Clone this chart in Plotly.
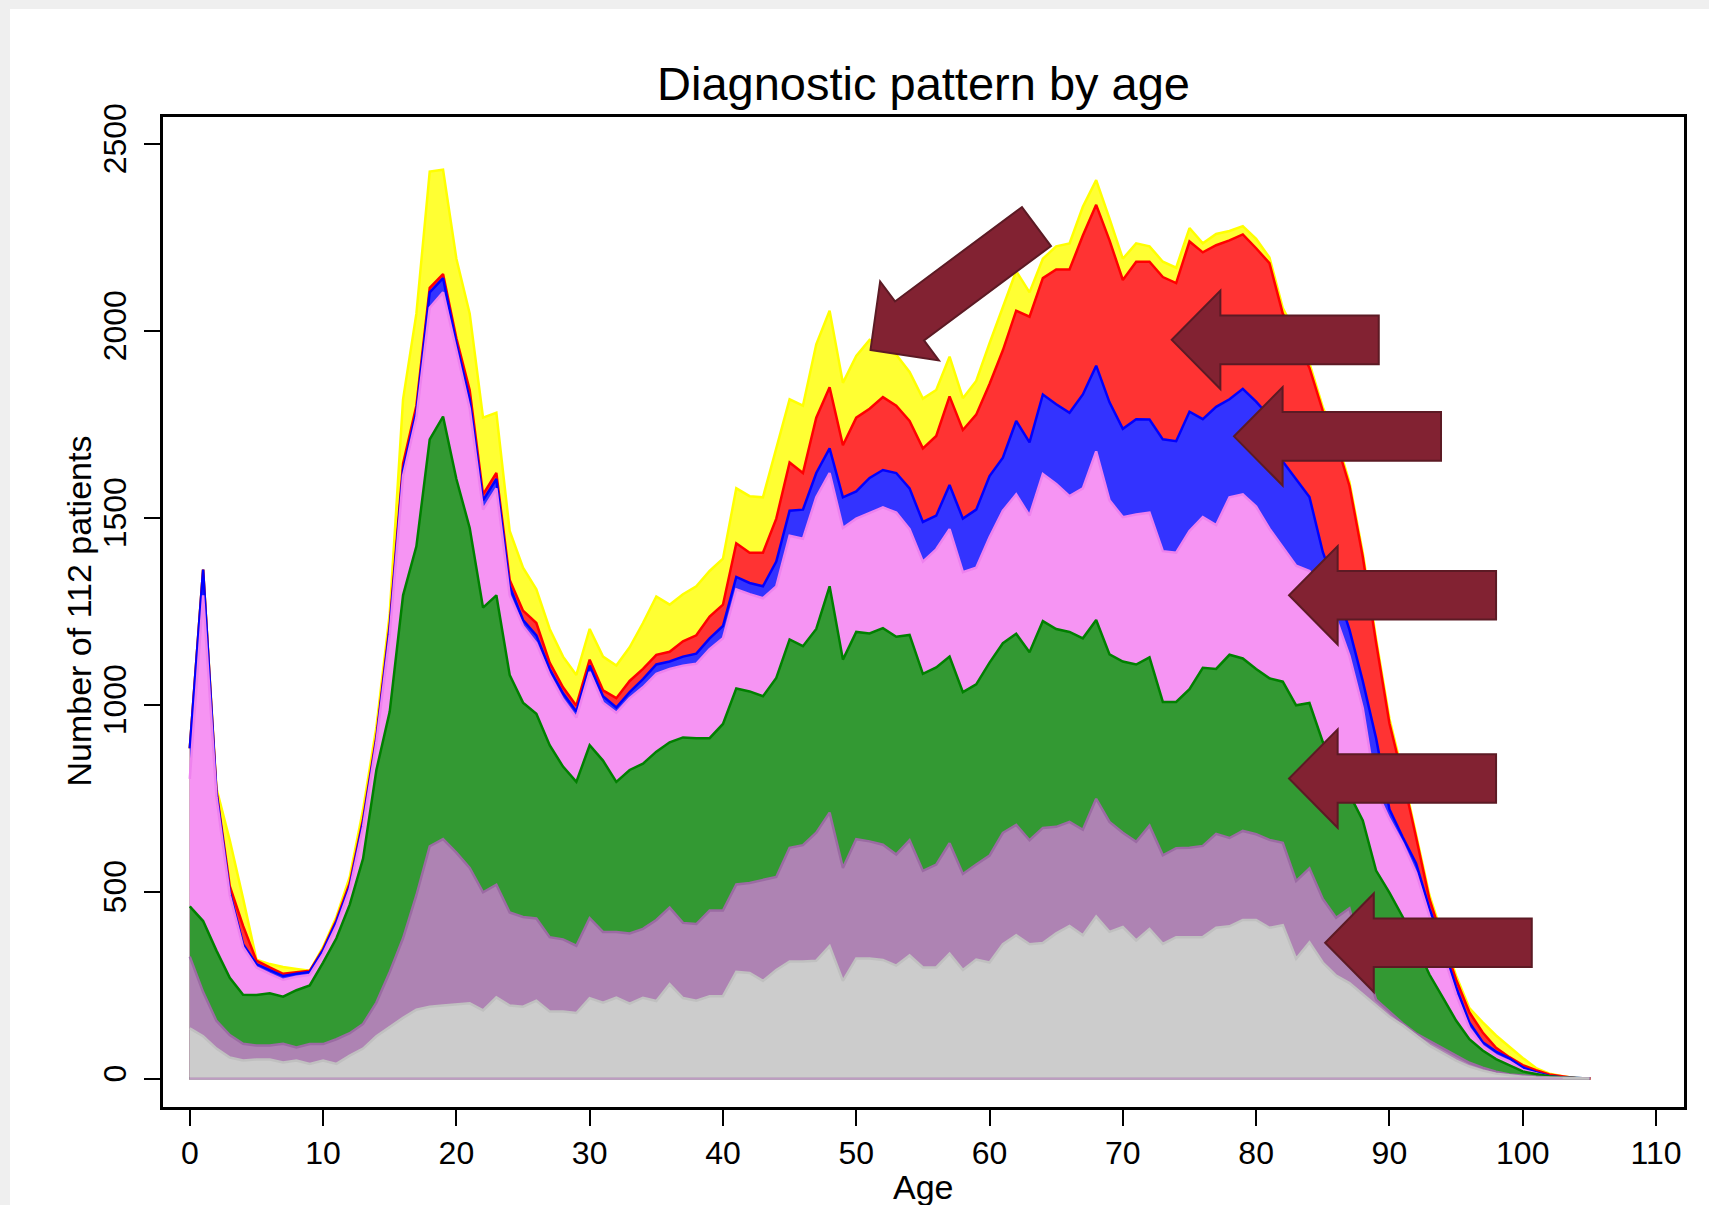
import math
import plotly.graph_objects as go

# ---------------- data (cumulative band tops) ----------------
ages = list(range(0, 106))

top_yellow = [883, 1361, 776, 637, 481, 318, 306, 298, 293, 288,
              351, 432, 539, 719, 940, 1243, 1816, 2045, 2425, 2430,
              2192, 2045, 1767, 1780, 1464, 1366, 1308, 1202, 1128, 1079,
              1202, 1128, 1104, 1153, 1218, 1289, 1267, 1295, 1316, 1357,
              1390, 1578, 1557, 1554, 1685, 1816, 1799, 1963, 2053, 1860,
              1932, 1975, 1955, 1935, 1889, 1818, 1841, 1930, 1819, 1865,
              1966, 2061, 2159, 2102, 2192, 2225, 2233, 2331, 2402, 2299,
              2192, 2233, 2225, 2184, 2168, 2274, 2233, 2258, 2266, 2279,
              2245, 2195, 2060, 1990, 1912, 1795, 1712, 1595, 1405, 1175,
              962, 815, 655, 490, 380, 275, 188, 150, 115, 85,
              55, 28, 13, 6, 1, 1]

top_red = [883, 1361, 770, 514, 408, 315, 297, 280, 284, 288,
           346, 424, 523, 694, 915, 1215, 1644, 1799, 2114, 2151,
           1979, 1840, 1562, 1619, 1333, 1251, 1218, 1112, 1046, 997,
           1120, 1038, 1017, 1063, 1095, 1133, 1141, 1169, 1185, 1235,
           1267, 1431, 1406, 1406, 1497, 1647, 1619, 1767, 1848, 1693,
           1767, 1791, 1822, 1799, 1758, 1685, 1718, 1824, 1734, 1775,
           1857, 1947, 2053, 2037, 2140, 2163, 2163, 2254, 2336, 2241,
           2135, 2184, 2184, 2143, 2127, 2238, 2209, 2228, 2241, 2257,
           2220, 2180, 2045, 1975, 1900, 1785, 1703, 1585, 1395, 1165,
           950, 805, 645, 480, 370, 265, 177, 123, 82, 57,
           36, 22, 11, 6, 1, 1]

top_blue = [883, 1361, 765, 498, 359, 306, 290, 274, 280, 285,
            343, 419, 514, 686, 907, 1205, 1627, 1783, 2102, 2140,
            1966, 1816, 1546, 1603, 1316, 1226, 1185, 1095, 1030, 981,
            1104, 1022, 992, 1033, 1068, 1107, 1115, 1128, 1136, 1177,
            1210, 1341, 1325, 1316, 1382, 1518, 1521, 1619, 1685, 1554,
            1570, 1606, 1627, 1619, 1578, 1488, 1505, 1587, 1497, 1521,
            1611, 1660, 1758, 1701, 1829, 1803, 1780, 1829, 1906, 1808,
            1737, 1763, 1762, 1709, 1704, 1783, 1763, 1796, 1816, 1844,
            1810, 1770, 1650, 1603, 1555, 1408, 1310, 1200, 1063, 910,
            720, 645, 575, 455, 355, 245, 150, 97, 72, 54,
            30, 17, 7, 3, 1, 1]

top_pink = [801, 1292, 752, 490, 351, 297, 280, 264, 272, 277,
            334, 408, 506, 673, 899, 1186, 1611, 1767, 2061, 2102,
            1947, 1791, 1521, 1578, 1292, 1210, 1164, 1079, 1014, 965,
            1087, 1005, 978, 1017, 1046, 1082, 1095, 1104, 1109, 1148,
            1177, 1308, 1295, 1284, 1316, 1451, 1443, 1554, 1619, 1472,
            1497, 1513, 1527, 1513, 1469, 1382, 1415, 1469, 1354, 1366,
            1447, 1518, 1562, 1505, 1616, 1590, 1557, 1578, 1677, 1546,
            1501, 1508, 1513, 1410, 1406, 1464, 1501, 1480, 1554, 1562,
            1529, 1470, 1420, 1371, 1357, 1300, 1230, 1130, 990, 770,
            694, 629, 550, 435, 335, 225, 135, 87, 62, 46,
            23, 14, 4, 2, 1, 1]

top_green = [460, 421, 342, 269, 224, 223, 228, 219, 236, 249,
             310, 375, 465, 588, 825, 981, 1292, 1423, 1709, 1770,
             1603, 1472, 1259, 1292, 1079, 1005, 975, 891, 834, 793,
             891, 850, 793, 825, 842, 874, 899, 912, 910, 910,
             948, 1043, 1035, 1022, 1071, 1174, 1156, 1202, 1316, 1120,
             1194, 1190, 1204, 1181, 1186, 1082, 1099, 1128, 1033, 1054,
             1112, 1164, 1189, 1140, 1223, 1202, 1194, 1177, 1226, 1134,
             1115, 1107, 1126, 1007, 1007, 1041, 1098, 1095, 1133, 1123,
             1095, 1070, 1061, 998, 1004, 900, 830, 760, 690, 556,
             497, 432, 355, 278, 217, 155, 105, 75, 52, 35,
             19, 12, 6, 3, 1, 1]

top_purple = [326, 231, 154, 116, 93, 88, 88, 93, 83, 92,
              92, 105, 121, 146, 203, 285, 375, 490, 621, 640,
              604, 563, 498, 518, 444, 432, 428, 378, 372, 355,
              429, 392, 392, 388, 400, 424, 457, 416, 413, 449,
              449, 519, 523, 531, 539, 617, 624, 657, 711, 563,
              640, 634, 625, 599, 637, 555, 572, 629, 547, 572,
              596, 657, 678, 637, 670, 673, 686, 665, 748, 686,
              657, 633, 676, 597, 616, 617, 622, 654, 643, 662,
              653, 638, 630, 528, 562, 480, 430, 455, 320, 211,
              180, 147, 120, 100, 80, 60, 42, 29, 18, 11,
              7, 5, 3, 1, 1, 1]

top_gray = [134, 113, 80, 56, 48, 51, 51, 43, 48, 39,
            48, 39, 61, 80, 113, 138, 162, 184, 192, 195,
            198, 201, 182, 217, 195, 192, 208, 179, 179, 175,
            215, 203, 216, 200, 216, 207, 252, 215, 208, 220,
            220, 285, 282, 261, 290, 313, 313, 315, 354, 261,
            321, 321, 317, 302, 329, 297, 297, 334, 290, 318,
            310, 359, 383, 359, 362, 388, 408, 383, 433, 392,
            405, 369, 400, 360, 378, 379, 378, 403, 407, 424,
            424, 403, 410, 320, 364, 310, 275, 255, 225, 195,
            165, 142, 115, 88, 68, 48, 32, 21, 13, 8,
            5, 3, 2, 1, 1, 1]

x_ticks = [0, 10, 20, 30, 40, 50, 60, 70, 80, 90, 100, 110]
y_ticks = [0, 500, 1000, 1500, 2000, 2500]

# ---------------- layout geometry ----------------
W, H = 1709, 1205
ML, MR, MT, MB = 163, 25, 117, 98
PW, PH = W - ML - MR, H - MT - MB
XR = [-2.01, 112.10]
YR = [-76.2, 2570.9]
FONT = "Liberation Sans, Arial, sans-serif"


def d2p(x, y):
    return (ML + (x - XR[0]) / (XR[1] - XR[0]) * PW,
            MT + (YR[1] - y) / (YR[1] - YR[0]) * PH)


def p2d(px, py):
    return (XR[0] + (px - ML) / PW * (XR[1] - XR[0]),
            YR[1] - (py - MT) / PH * (YR[1] - YR[0]))


def paper_x(px):
    return (px - ML) / PW


def paper_y(py):
    return (H - MB - py) / PH


layers = [
    (top_yellow, "#FFFF33", "#FFFF00"),
    (top_red, "#FF3333", "#FF0000"),
    (top_blue, "#3333FF", "#0000FF"),
    (top_pink, "#F694F3", "#EE82EE"),
    (top_green, "#339933", "#008000"),
    (top_purple, "#AE83B3", "#9B6BA3"),
    (top_gray, "#CCCCCC", "#C0C0C0"),
]

fig = go.Figure()
for vals, fc, lc in layers:
    # closed area polygon: top edge, then down to the baseline and back to age 0
    xs = ages + [ages[-1], ages[0]]
    ys = vals + [0, 0]
    fig.add_trace(go.Scatter(x=xs, y=ys, mode="lines", fill="toself",
                             fillcolor=fc, line=dict(color=lc, width=2.5),
                             hoverinfo="skip", showlegend=False))

# faint purple baseline visible under the grey band
fig.add_trace(go.Scatter(x=ages[:104], y=[0] * 104, mode="lines",
                         line=dict(color="#BE9CC2", width=2),
                         hoverinfo="skip", showlegend=False))


def arrow_path(tip, tail, shaft=48.6, head_w=98.4, head_len=48.6):
    tp = d2p(*tip)
    tl = d2p(*tail)
    dx, dy = tl[0] - tp[0], tl[1] - tp[1]
    L = math.hypot(dx, dy)
    ux, uy = dx / L, dy / L
    nx, ny = -uy, ux
    bx, by = tp[0] + ux * head_len, tp[1] + uy * head_len
    pts = [tp,
           (bx + nx * head_w / 2, by + ny * head_w / 2),
           (bx + nx * shaft / 2, by + ny * shaft / 2),
           (tl[0] + nx * shaft / 2, tl[1] + ny * shaft / 2),
           (tl[0] - nx * shaft / 2, tl[1] - ny * shaft / 2),
           (bx - nx * shaft / 2, by - ny * shaft / 2),
           (bx - nx * head_w / 2, by - ny * head_w / 2)]
    dpts = [p2d(*p) for p in pts]
    return "M " + " L ".join(f"{x:.4f},{y:.3f}" for x, y in dpts) + " Z"


# arrows: (tip age, tip count) -> (tail age, tail count)
arrows = [
    ((73.67, 1975), (89.2, 1975)),
    ((78.34, 1717), (93.87, 1717)),
    ((82.47, 1292), (98.0, 1292)),
    ((82.47, 802), (98.0, 802)),
    ((85.18, 363), (100.68, 363)),
    ((51.07, 1948), (63.52, 2278)),
]

shapes = []
# light grey page border (top and left)
shapes.append(dict(type="rect", xref="paper", yref="paper", layer="below",
                   x0=paper_x(0), x1=paper_x(10), y0=paper_y(H), y1=paper_y(0),
                   fillcolor="#EFEFEF", line=dict(width=0)))
shapes.append(dict(type="rect", xref="paper", yref="paper", layer="below",
                   x0=paper_x(0), x1=paper_x(W), y0=paper_y(9), y1=paper_y(0),
                   fillcolor="#EFEFEF", line=dict(width=0)))
for tip, tail in arrows:
    shapes.append(dict(type="path", xref="x", yref="y", layer="above",
                       path=arrow_path(tip, tail), fillcolor="#822232",
                       line=dict(color="#5C1A24", width=2)))

annotations = [
    dict(text="Diagnostic pattern by age", x=paper_x(923.5), y=paper_y(83),
         xref="paper", yref="paper", xanchor="center", yanchor="middle",
         showarrow=False, font=dict(size=47, family=FONT, color="black")),
    dict(text="Age", x=paper_x(923.5), y=paper_y(1187),
         xref="paper", yref="paper", xanchor="center", yanchor="middle",
         showarrow=False, font=dict(size=34, family=FONT, color="black")),
    dict(text="Number of 112 patients", x=paper_x(78.5), y=paper_y(611),
         xref="paper", yref="paper", xanchor="center", yanchor="middle",
         textangle=-90, showarrow=False,
         font=dict(size=34, family=FONT, color="black")),
]

axis_common = dict(showline=True, linewidth=2.5, linecolor="black", mirror=True,
                   ticks="outside", ticklen=16, tickwidth=2, tickcolor="black",
                   showgrid=False, zeroline=False,
                   tickfont=dict(size=32, family=FONT, color="black"))

fig.update_layout(
    width=W, height=H,
    margin=dict(l=ML, r=MR, t=MT, b=MB, pad=0),
    paper_bgcolor="white", plot_bgcolor="white",
    xaxis=dict(range=XR, tickvals=x_ticks, ticktext=[str(v) for v in x_ticks],
               **axis_common),
    yaxis=dict(range=YR, tickvals=y_ticks, ticktext=[str(v) for v in y_ticks],
               tickangle=-90, ticklabelstandoff=5, **axis_common),
    shapes=shapes, annotations=annotations, showlegend=False,
)

fig.write_html("out.html", config={"displayModeBar": False},
               post_script="document.body.style.margin='0px';")
